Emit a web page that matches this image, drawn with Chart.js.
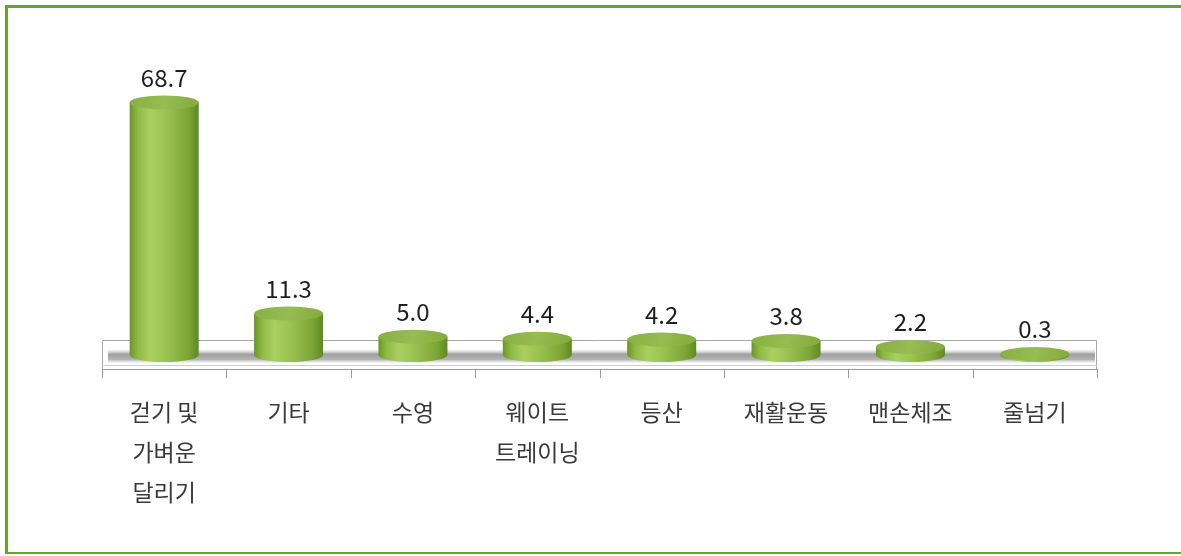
<!DOCTYPE html>
<html><head><meta charset="utf-8">
<script src="https://cdn.jsdelivr.net/npm/chart.js@4.4.1/dist/chart.umd.min.js"></script>
<style>
html,body{margin:0;padding:0;background:#fff;}
#wrap{position:relative;width:1181px;height:556px;}
#frame{position:absolute;left:5px;top:5px;width:1176px;height:549px;border-left:3px solid #66a330;border-top:3px solid #66a330;border-bottom:2px solid #66a330;box-sizing:border-box;}
canvas{position:absolute;left:0;top:0;}
</style></head>
<body><div id="wrap"><div id="frame"></div><canvas id="c" width="1181" height="556"></canvas></div>
<script>
const categories = [["걷기 및","가벼운","달리기"],"기타","수영",["웨이트","트레이닝"],"등산","재활운동","맨손체조","줄넘기"];
const values = [68.7, 11.3, 5.0, 4.4, 4.2, 3.8, 2.2, 0.3];
const valueLabels = ["68.7","11.3","5.0","4.4","4.2","3.8","2.2","0.3"];

const FONT = "'Noto Sans CJK KR','Malgun Gothic',sans-serif";

const floorPlugin = {
  id:'floor',
  beforeDatasetsDraw(chart){
    const ctx = chart.ctx, xs = chart.scales.x, ys = chart.scales.y;
    const l = xs.left, r = xs.right, base = ys.getPixelForValue(0);
    const top = base - 15, bot = base + 14;
    ctx.save();
    ctx.fillStyle = '#ffffff';
    ctx.fillRect(l, top, r-l, bot-top);
    const g = ctx.createLinearGradient(0, top+9, 0, top+24);
    g.addColorStop(0,'rgba(200,200,200,0)');
    g.addColorStop(0.35,'rgba(160,160,160,1)');
    g.addColorStop(0.7,'rgba(180,180,180,1)');
    g.addColorStop(1,'rgba(230,230,230,0)');
    ctx.fillStyle = g;
    ctx.fillRect(l+6, top+9, r-l-8, 15);
    ctx.strokeStyle = '#a8a8a8';
    ctx.lineWidth = 1;
    ctx.beginPath();
    ctx.moveTo(l+0.5, bot+0.5); ctx.lineTo(l+0.5, top+0.5); ctx.lineTo(r-0.5, top+0.5); ctx.lineTo(r-0.5, bot+0.5);
    ctx.stroke();
    ctx.strokeStyle = '#d0d0d0';
    ctx.beginPath(); ctx.moveTo(l, bot-3.5); ctx.lineTo(r, bot-3.5); ctx.stroke();
    ctx.strokeStyle = '#9a9a9a';
    ctx.beginPath(); ctx.moveTo(l, bot+0.5); ctx.lineTo(r, bot+0.5); ctx.stroke();
    const n = categories.length, w = (r-l)/n;
    ctx.beginPath();
    for(let i=0;i<=n;i++){ const x = Math.round(l + i*w)+0.5; ctx.moveTo(x, bot); ctx.lineTo(x, bot+9); }
    ctx.stroke();
    ctx.restore();
  }
};

const cylPlugin = {
  id:'cyl',
  afterDatasetsDraw(chart){
    const ctx = chart.ctx;
    const meta = chart.getDatasetMeta(0);
    meta.data.forEach((bar, i) => {
      const x = bar.x, y = bar.y, base = bar.base, w = bar.width;
      const rx = w/2, ry = 7;
      const l = x - rx, r = x + rx;
      ctx.save();
      const g = ctx.createLinearGradient(l, 0, r, 0);
      g.addColorStop(0,'#6a9628');
      g.addColorStop(0.12,'#8fba45');
      g.addColorStop(0.3,'#a9cf61');
      g.addColorStop(0.55,'#98c050');
      g.addColorStop(0.85,'#7ca535');
      g.addColorStop(1,'#5e8a20');
      ctx.fillStyle = g;
      ctx.beginPath();
      ctx.moveTo(l, y);
      ctx.lineTo(l, base);
      ctx.ellipse(x, base, rx, ry, 0, Math.PI, 0, true);
      ctx.lineTo(r, y);
      ctx.closePath();
      ctx.fill();
      const tg = ctx.createLinearGradient(l, y-ry, r, y+ry);
      tg.addColorStop(0,'#88b042');
      tg.addColorStop(0.5,'#97bc52');
      tg.addColorStop(1,'#83aa3c');
      ctx.fillStyle = tg;
      ctx.beginPath();
      ctx.ellipse(x, y, rx, ry, 0, 0, Math.PI*2);
      ctx.fill();
      ctx.fillStyle = '#1e1e1e';
      ctx.font = "24px " + FONT;
      ctx.textAlign = 'center';
      ctx.textBaseline = 'middle';
      ctx.fillText(valueLabels[i], x, y - 25);
      ctx.restore();
    });
  }
};

new Chart(document.getElementById('c'), {
  type:'bar',
  data:{ labels: categories, datasets:[{ data: values, backgroundColor:'rgba(0,0,0,0)', borderWidth:0, categoryPercentage:1, barPercentage:0.555 }]},
  options:{
    responsive:false, animation:false,
    layout:{ padding:{ left:102, right:84, top:61, bottom:0 } },
    plugins:{ legend:{display:false}, tooltip:{enabled:false} },
    scales:{
      y:{ display:false, min:0, max:80 },
      x:{ grid:{display:false, drawTicks:false}, border:{display:false},
          afterFit:(axis)=>{ axis.height = 201; },
          ticks:{ color:'#3a3a3a', font:{ family:FONT, size:23, lineHeight:1.74 }, padding:37, maxRotation:0, autoSkip:false } }
    }
  },
  plugins:[floorPlugin, cylPlugin]
});
</script></body></html>
